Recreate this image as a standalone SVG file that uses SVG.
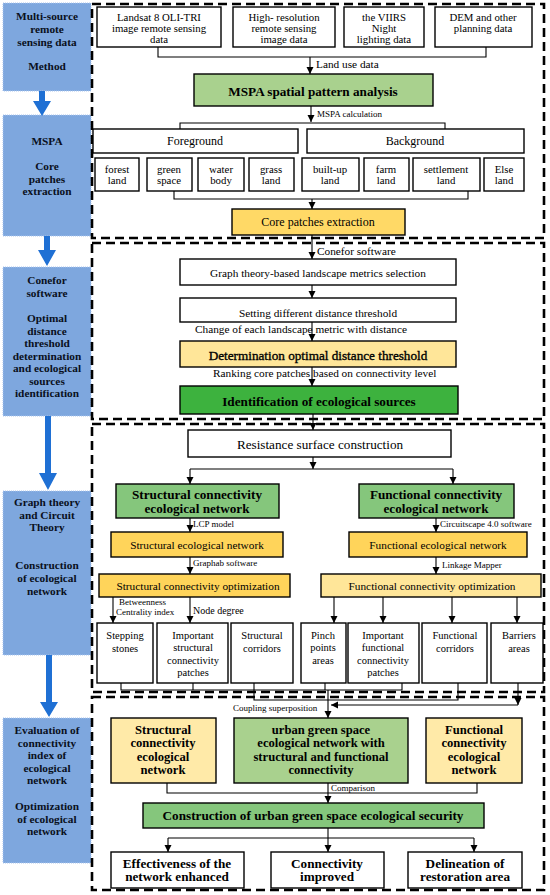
<svg xmlns="http://www.w3.org/2000/svg" width="550" height="895" viewBox="0 0 550 895">
<style>
text{font-family:"Liberation Serif","Times New Roman",serif;fill:#000;dominant-baseline:central;text-anchor:middle}
.lb{font-weight:bold;font-size:11.3px;fill:#0a1020}
.sec{fill:none;stroke:#000;stroke-width:2.6;stroke-dasharray:9 5}
.bx{stroke:#000;stroke-width:1.4}
.w{fill:#fff}
.g1{fill:#a9d18e}
.g2{fill:#85c67c}
.g3{fill:#3db23e}
.y1{fill:#ffd45a}
.y2{fill:#ffe699}
.y3{fill:#ffeaa8}
.blue{fill:#7ea7de;stroke:#a9c5ee;stroke-width:1;stroke-dasharray:1 1}
.ln{fill:none;stroke:#000;stroke-width:1.1}
.ar{fill:none;stroke:#000;stroke-width:1.1;marker-end:url(#ah)}
.t11{font-size:10.8px}
.t10{font-size:10.5px}
.t12{font-size:12px}
.t13{font-size:13.2px}
.sm{font-size:9px;text-anchor:start}
.lab{font-size:11.3px;text-anchor:start}
.b13{font-size:13.2px;font-weight:bold}
.b14{font-size:12.6px;font-weight:bold}
.barrow{fill:#1f70d4}
</style>
<defs>
<marker id="ah" markerUnits="userSpaceOnUse" markerWidth="8" markerHeight="8" refX="7" refY="4" orient="auto">
<path d="M0,0.5 L7,4 L0,7.5 z" fill="#000"/>
</marker>
</defs>

<g id="left-column">
<g id="L1"><rect class="blue" x="3" y="3" width="88" height="88"/>
<text class="lb" x="47" y="16">Multi-source</text><text class="lb" x="47" y="29">remote</text><text class="lb" x="47" y="42">sensing data</text><text class="lb" x="47" y="66">Method</text></g>
<g id="L2"><rect class="blue" x="3" y="115" width="88" height="121"/>
<text class="lb" x="47" y="141">MSPA</text><text class="lb" x="47" y="166">Core</text><text class="lb" x="47" y="178.5">patches</text><text class="lb" x="47" y="191">extraction</text></g>
<g id="L3"><rect class="blue" x="3" y="267" width="88" height="149"/>
<text class="lb" x="47" y="280">Conefor</text><text class="lb" x="47" y="292.5">software</text><text class="lb" x="47" y="318">Optimal</text><text class="lb" x="47" y="330.5">distance</text><text class="lb" x="47" y="343">threshold</text><text class="lb" x="47" y="355.5">determination</text><text class="lb" x="47" y="368">and ecological</text><text class="lb" x="47" y="380.5">sources</text><text class="lb" x="47" y="393">identification</text></g>
<g id="L4"><rect class="blue" x="3" y="491" width="88" height="164"/>
<text class="lb" x="47" y="502">Graph theory</text><text class="lb" x="47" y="514.5">and Circuit</text><text class="lb" x="47" y="527">Theory</text><text class="lb" x="47" y="565">Construction</text><text class="lb" x="47" y="578">of ecological</text><text class="lb" x="47" y="591">network</text></g>
<g id="L5"><rect class="blue" x="3" y="718" width="88" height="145"/>
<text class="lb" x="47" y="730">Evaluation of</text><text class="lb" x="47" y="742.5">connectivity</text><text class="lb" x="47" y="755">index of</text><text class="lb" x="47" y="767.5">ecological</text><text class="lb" x="47" y="780">network</text><text class="lb" x="47" y="806">Optimization</text><text class="lb" x="47" y="818.5">of ecological</text><text class="lb" x="47" y="831">network</text></g>
<g id="blue-arrows">
<polygon class="barrow" points="39,91 45,91 45,101 51,101 42,116 33,101 39,101"/>
<polygon class="barrow" points="44,236 50,236 50,250 56,250 47,266 38,250 44,250"/>
<polygon class="barrow" points="45,416 51,416 51,473 57,473 48,490 39,473 45,473"/>
<polygon class="barrow" points="46,655 52,655 52,702 58,702 49,717 40,702 46,702"/>
</g>
</g>

<g id="sections">
<rect class="sec" x="92" y="4" width="452" height="234"/>
<rect class="sec" x="92" y="243" width="452" height="176"/>
<rect class="sec" x="92" y="424" width="452" height="268"/>
<rect class="sec" x="92" y="697" width="452" height="193"/>
</g>

<g id="connectors">
<polyline class="ln" points="158,47 158,57 486,57 486,47"/>
<line class="ar" x1="310" y1="57" x2="310" y2="74"/>
<line class="ar" x1="311" y1="106" x2="311" y2="122"/>
<polyline class="ln" points="180,130 180,123 445,123 445,130"/>
<polyline class="ln" points="174,191 174,199 468,199 468,191"/>
<line class="ar" x1="312" y1="199" x2="312" y2="209"/>
<line class="ar" x1="312" y1="235" x2="312" y2="259"/>
<line class="ar" x1="312" y1="285" x2="312" y2="298"/>
<line class="ar" x1="312" y1="322" x2="312" y2="341"/>
<line class="ar" x1="312" y1="367" x2="312" y2="386"/>
<line class="ar" x1="313" y1="414" x2="313" y2="430"/>
<line class="ar" x1="313" y1="457" x2="313" y2="469"/>
<polyline class="ln" points="190,469 453,469"/>
<line class="ar" x1="190" y1="469" x2="190" y2="484"/>
<line class="ar" x1="453" y1="469" x2="453" y2="484"/>
<line class="ar" x1="190" y1="518" x2="190" y2="532"/>
<line class="ar" x1="436" y1="518" x2="436" y2="532"/>
<line class="ar" x1="190" y1="557" x2="190" y2="574"/>
<line class="ar" x1="436" y1="557" x2="436" y2="574"/>
<line class="ar" x1="113" y1="597" x2="113" y2="623"/>
<line class="ar" x1="190" y1="597" x2="190" y2="623"/>
<line class="ar" x1="334" y1="597" x2="334" y2="623"/>
<line class="ar" x1="383" y1="597" x2="383" y2="623"/>
<line class="ar" x1="452" y1="597" x2="452" y2="623"/>
<line class="ar" x1="517" y1="597" x2="517" y2="623"/>
<polyline class="ln" points="121,683 121,690 402,690 402,683"/>
<line class="ln" x1="193" y1="683" x2="193" y2="690"/>
<line class="ln" x1="325" y1="683" x2="325" y2="690"/>
<polyline class="ln" points="254,683 254,700 458,700 458,683"/>
<line class="ar" x1="518" y1="683" x2="518" y2="705"/>
<polyline class="ar" points="518,705 331,705"/>
<line class="ar" x1="328" y1="690" x2="328" y2="718"/>
<polyline class="ln" points="167,783 167,793 477,793 477,783"/>
<line class="ar" x1="328" y1="783" x2="328" y2="803"/>
<line class="ln" x1="328" y1="828" x2="328" y2="838"/>
<polyline class="ln" points="168,838 474,838"/>
<line class="ar" x1="168" y1="838" x2="168" y2="852"/>
<line class="ar" x1="328" y1="838" x2="328" y2="852"/>
<line class="ar" x1="474" y1="838" x2="474" y2="852"/>
</g>

<g id="connector-labels">
<text class="lab" x="316" y="64">Land use data</text>
<text class="sm" x="317" y="114">MSPA calculation</text>
<text class="lab" x="317" y="251">Conefor software</text>
<text class="lab" x="195" y="329">Change of each landscape metric with distance</text>
<text class="lab" x="213" y="373">Ranking core patches based on connectivity level</text>
<text class="sm" x="193" y="524">LCP model</text>
<text class="sm" x="440" y="524">Circuitscape 4.0 software</text>
<text class="sm" x="193" y="563">Graphab software</text>
<text class="sm" x="442" y="565">Linkage Mapper</text>
<text class="sm" x="119" y="602">Betweenness</text>
<text class="sm" x="116" y="612">Centrality index</text>
<text class="sm" x="193" y="610" style="font-size:10px">Node degree</text>
<text class="sm" x="233" y="708">Coupling superposition</text>
<text class="sm" x="331" y="788">Comparison</text>
</g>

<g id="n-landsat"><rect class="bx w" x="97" y="7" width="124" height="40"/><text class="t11" x="159" y="16.5">Landsat 8 OLI-TRI</text><text class="t11" x="159" y="27.5">image remote sensing</text><text class="t11" x="159" y="38.5">data</text></g>
<g id="n-highres"><rect class="bx w" x="233" y="7" width="102" height="40"/><text class="t11" x="284" y="16.5">High- resolution</text><text class="t11" x="284" y="27.5">remote sensing</text><text class="t11" x="284" y="38.5">image data</text></g>
<g id="n-viirs"><rect class="bx w" x="344" y="7" width="80" height="40"/><text class="t11" x="384" y="16.5">the VIIRS</text><text class="t11" x="384" y="27.5">Night</text><text class="t11" x="384" y="38.5">lighting data</text></g>
<g id="n-dem"><rect class="bx w" x="435" y="7" width="97" height="40"/><text class="t11" x="483" y="16.5">DEM and other</text><text class="t11" x="483" y="27.5">planning data</text></g>
<g id="n-mspa"><rect class="bx g1" x="194" y="74" width="239" height="32"/><text class="b13" x="313" y="91">MSPA spatial pattern analysis</text></g>
<g id="n-fore"><rect class="bx w" x="93" y="129" width="205" height="24"/><text class="t12" x="195" y="141">Foreground</text></g>
<g id="n-back"><rect class="bx w" x="307" y="129" width="217" height="24"/><text class="t12" x="415" y="141">Background</text></g>
<g id="n-forest"><rect class="bx w" x="95" y="158" width="44" height="33"/><text class="t11" x="117" y="168.5">forest</text><text class="t11" x="117" y="180">land</text></g>
<g id="n-green"><rect class="bx w" x="147" y="158" width="45" height="33"/><text class="t11" x="169" y="168.5">green</text><text class="t11" x="169" y="180">space</text></g>
<g id="n-water"><rect class="bx w" x="198" y="158" width="46" height="33"/><text class="t11" x="221" y="168.5">water</text><text class="t11" x="221" y="180">body</text></g>
<g id="n-grass"><rect class="bx w" x="249" y="158" width="45" height="33"/><text class="t11" x="271" y="168.5">grass</text><text class="t11" x="271" y="180">land</text></g>
<g id="n-built"><rect class="bx w" x="302" y="158" width="57" height="33"/><text class="t11" x="330" y="168.5">built-up</text><text class="t11" x="330" y="180">land</text></g>
<g id="n-farm"><rect class="bx w" x="364" y="158" width="45" height="33"/><text class="t11" x="386" y="168.5">farm</text><text class="t11" x="386" y="180">land</text></g>
<g id="n-settle"><rect class="bx w" x="413" y="158" width="67" height="33"/><text class="t11" x="446" y="168.5">settlement</text><text class="t11" x="446" y="180">land</text></g>
<g id="n-else"><rect class="bx w" x="484" y="158" width="40" height="33"/><text class="t11" x="504" y="168.5">Else</text><text class="t11" x="504" y="180">land</text></g>
<g id="n-core"><rect class="bx" style="fill:#ffd966" x="232" y="209" width="173" height="26"/><text class="t12" x="318" y="222">Core patches extraction</text></g>

<g id="n-graph"><rect class="bx w" x="180" y="259" width="276" height="26"/><text class="t11" x="318" y="273" style="font-size:11.3px">Graph theory-based landscape metrics selection</text></g>
<g id="n-setting"><rect class="bx w" x="180" y="298" width="276" height="24"/><text class="t11" x="318" y="313" style="font-size:11.3px">Setting different distance threshold</text></g>
<g id="n-determ"><rect class="bx y2" x="180" y="341" width="276" height="26"/><text class="t13" x="318" y="355" style="stroke:#000;stroke-width:0.35">Determination optimal distance threshold</text></g>
<g id="n-ident"><rect class="bx g3" x="180" y="386" width="278" height="28"/><text class="b13" x="319" y="401">Identification of ecological sources</text></g>

<g id="n-resist"><rect class="bx w" x="188" y="430" width="263" height="27"/><text class="t13" x="320" y="444">Resistance surface construction</text></g>
<g id="n-scen"><rect class="bx g2" x="116" y="484" width="163" height="34"/><text class="b13" x="197" y="494.5">Structural connectivity</text><text class="b13" x="197" y="508">ecological network</text></g>
<g id="n-fcen"><rect class="bx g2" x="359" y="484" width="155" height="34"/><text class="b13" x="436" y="494.5">Functional connectivity</text><text class="b13" x="436" y="508">ecological network</text></g>
<g id="n-sen"><rect class="bx y1" x="111" y="532" width="172" height="25"/><text class="t11" x="197" y="545" style="font-size:11.3px">Structural ecological network</text></g>
<g id="n-fen"><rect class="bx y1" x="349" y="532" width="178" height="25"/><text class="t11" x="438" y="545" style="font-size:11.3px">Functional ecological network</text></g>
<g id="n-sco"><rect class="bx y1" x="99" y="574" width="191" height="23"/><text class="t11" x="198" y="586" style="font-size:11.3px">Structural connectivity optimization</text></g>
<g id="n-fco"><rect class="bx y2" x="321" y="574" width="220" height="23"/><text class="t11" x="432" y="586" style="font-size:11.3px">Functional connectivity optimization</text></g>
<g id="n-step"><rect class="bx w" x="97" y="623" width="56" height="60"/><text class="t10" x="125" y="635">Stepping</text><text class="t10" x="125" y="648">stones</text></g>
<g id="n-isp"><rect class="bx w" x="157" y="623" width="71" height="60"/><text class="t10" x="193" y="635">Important</text><text class="t10" x="193" y="647.5">structural</text><text class="t10" x="193" y="660">connectivity</text><text class="t10" x="193" y="672.5">patches</text></g>
<g id="n-sc"><rect class="bx w" x="231" y="623" width="62" height="60"/><text class="t10" x="262" y="635">Structural</text><text class="t10" x="262" y="648">corridors</text></g>
<g id="n-pinch"><rect class="bx w" x="301" y="623" width="45" height="60"/><text class="t10" x="323" y="635">Pinch</text><text class="t10" x="323" y="647.5">points</text><text class="t10" x="323" y="660">areas</text></g>
<g id="n-ifp"><rect class="bx w" x="348" y="623" width="71" height="60"/><text class="t10" x="383" y="635">Important</text><text class="t10" x="383" y="647.5">functional</text><text class="t10" x="383" y="660">connectivity</text><text class="t10" x="383" y="672.5">patches</text></g>
<g id="n-fc"><rect class="bx w" x="422" y="623" width="65" height="60"/><text class="t10" x="455" y="635">Functional</text><text class="t10" x="455" y="648">corridors</text></g>
<g id="n-barrier"><rect class="bx w" x="491" y="623" width="52" height="60"/><text class="t10" x="519" y="635">Barriers</text><text class="t10" x="519" y="648">areas</text></g>

<g id="n-scen2"><rect class="bx y3" x="111" y="718" width="105" height="65"/><text class="b14" x="163" y="729.5">Structural</text><text class="b14" x="163" y="743">connectivity</text><text class="b14" x="163" y="756.5">ecological</text><text class="b14" x="163" y="770">network</text></g>
<g id="n-urban"><rect class="bx g1" x="234" y="718" width="174" height="65"/><text class="b14" x="321" y="729.5">urban green space</text><text class="b14" x="321" y="743">ecological network with</text><text class="b14" x="321" y="756.5">structural and functional</text><text class="b14" x="321" y="770">connectivity</text></g>
<g id="n-fcen2"><rect class="bx y3" x="426" y="718" width="96" height="65"/><text class="b14" x="474" y="729.5">Functional</text><text class="b14" x="474" y="743">connectivity</text><text class="b14" x="474" y="756.5">ecological</text><text class="b14" x="474" y="770">network</text></g>
<g id="n-constr"><rect class="bx g2" x="143" y="803" width="341" height="25"/><text class="b13" x="313" y="815.5">Construction of urban green space ecological security</text></g>
<g id="n-eff"><rect class="bx w" x="111" y="852" width="133" height="36"/><text class="b13" x="177" y="863">Effectiveness of the</text><text class="b13" x="177" y="876.5">network enhanced</text></g>
<g id="n-conn"><rect class="bx w" x="271" y="852" width="113" height="36"/><text class="b13" x="327" y="863">Connectivity</text><text class="b13" x="327" y="876.5">improved</text></g>
<g id="n-delin"><rect class="bx w" x="408" y="852" width="114" height="36"/><text class="b13" x="465" y="863">Delineation of</text><text class="b13" x="465" y="876.5">restoration area</text></g>
</svg>
